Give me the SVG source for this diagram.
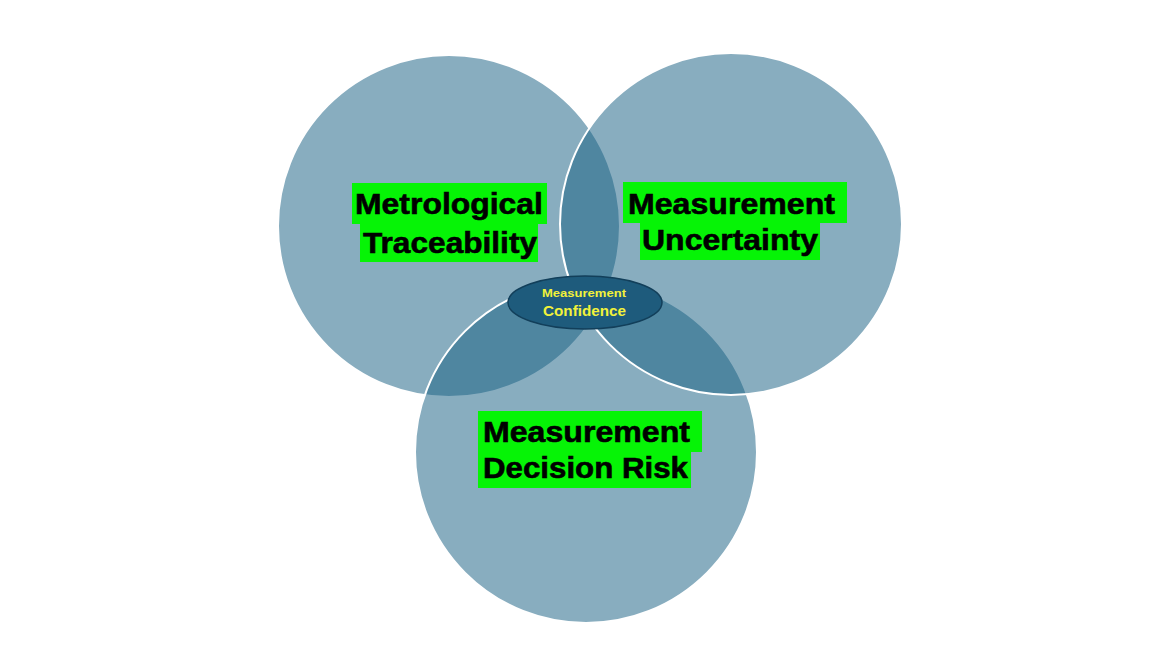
<svg xmlns="http://www.w3.org/2000/svg" width="1170" height="658" viewBox="0 0 1170 658">
  <style>
    .set { fill: #1B6285; fill-opacity: 0.52; stroke: #FFFFFF; stroke-width: 2; }
    .hl { fill: #06F406; }
    .lbl { font-family: "Liberation Sans", Arial, sans-serif; font-weight: bold; font-size: 30px; fill: #000000; stroke: #000000; stroke-width: 0.6; }
    .core { fill: #1E5B7C; stroke: #123F5A; stroke-width: 1.5; }
    .coretxt { font-family: "Liberation Sans", Arial, sans-serif; font-weight: bold; fill: #F2F23A; text-anchor: middle; }
  </style>
  <rect width="1170" height="658" fill="#FFFFFF"/>
  <g id="connectors"/>
  <g id="node-traceability">
    <circle class="set" cx="449" cy="226" r="171"/>
    <rect class="hl" x="352" y="183" width="195" height="41"/>
    <rect class="hl" x="360" y="224" width="178" height="38"/>
    <text class="lbl" x="355" y="214" textLength="188" lengthAdjust="spacingAndGlyphs">Metrological</text>
    <text class="lbl" x="363" y="253" textLength="174" lengthAdjust="spacingAndGlyphs">Traceability</text>
  </g>
  <g id="node-decision-risk">
    <circle class="set" cx="586" cy="452" r="171"/>
    <rect class="hl" x="478" y="411" width="224" height="41"/>
    <rect class="hl" x="478" y="452" width="213" height="36"/>
    <text class="lbl" x="483" y="442" textLength="207" lengthAdjust="spacingAndGlyphs">Measurement</text>
    <text class="lbl" x="483" y="478" textLength="205" lengthAdjust="spacingAndGlyphs">Decision Risk</text>
  </g>
  <g id="node-uncertainty">
    <circle class="set" cx="731" cy="224" r="171"/>
    <rect class="hl" x="623" y="182" width="224" height="41"/>
    <rect class="hl" x="640" y="223" width="180" height="37"/>
    <text class="lbl" x="628" y="214" textLength="207" lengthAdjust="spacingAndGlyphs">Measurement</text>
    <text class="lbl" x="642" y="250" textLength="176" lengthAdjust="spacingAndGlyphs">Uncertainty</text>
  </g>
  <g id="node-confidence">
    <ellipse class="core" cx="585" cy="302.5" rx="77" ry="26.5"/>
    <text class="coretxt" x="584" y="297" font-size="11" textLength="84" lengthAdjust="spacingAndGlyphs">Measurement</text>
    <text class="coretxt" x="584.5" y="316" font-size="15" textLength="83" lengthAdjust="spacingAndGlyphs">Confidence</text>
  </g>
</svg>
